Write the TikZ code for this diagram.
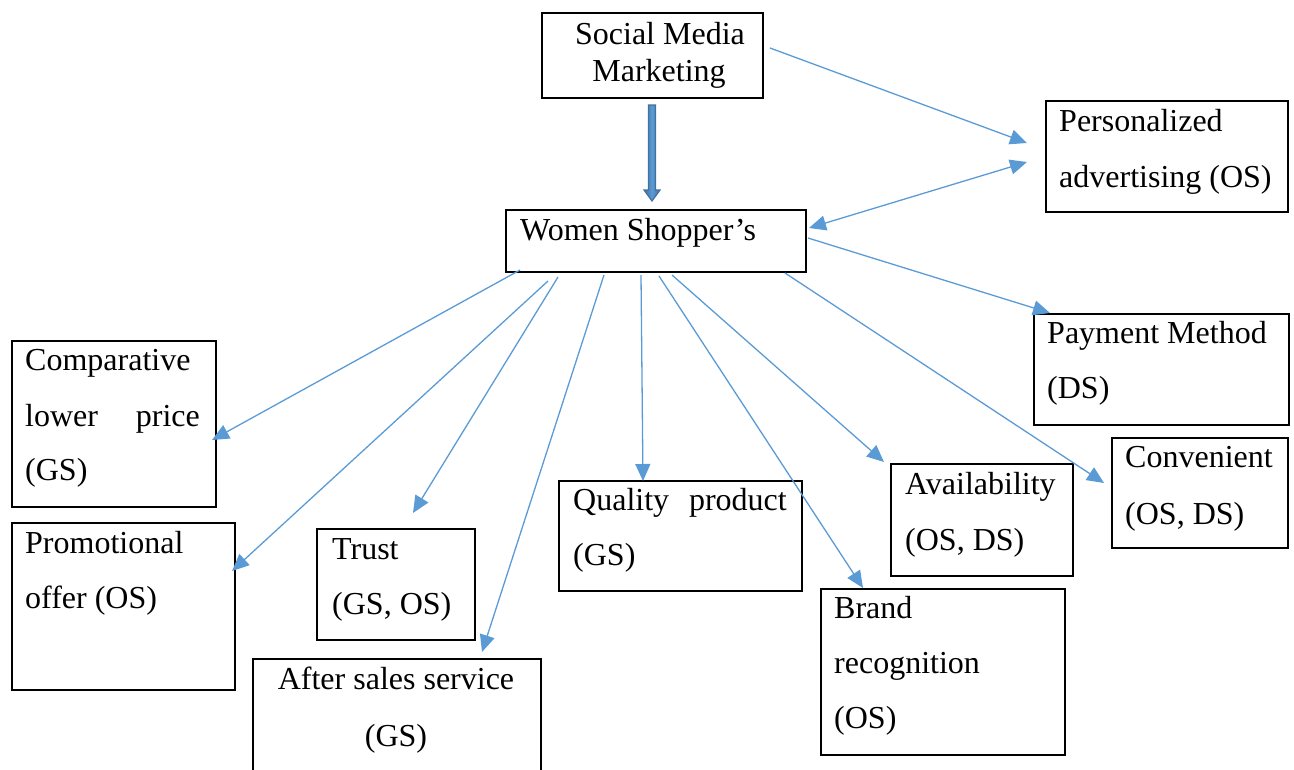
\documentclass[tikz,border=0pt]{standalone}
\usepackage{fontspec}
\setmainfont{Liberation Serif}
\usetikzlibrary{arrows.meta}
\definecolor{linkc}{HTML}{5B9BD5}
\definecolor{linkdark}{HTML}{41719C}
\begin{document}
\begin{tikzpicture}[x=1pt,y=-1pt,
  box/.style={draw=black, line width=2pt, inner sep=0pt, anchor=north west},
  txt/.style={inner sep=0pt, font=\fontsize{32}{38}\selectfont},
  conn/.style={draw=linkc, line width=1.3pt},
  >={Triangle[length=17pt,width=15pt]}
]
\clip (0,0) rectangle (1294,769);

% ---- boxes ----
\node[box, minimum width=221pt, minimum height=85pt]  (smm)   at (541,12)   {};
\node[box, minimum width=242pt, minimum height=111pt] (pers)  at (1045,100) {};
\node[box, minimum width=300pt, minimum height=62pt]  (ws)    at (505,209)  {};
\node[box, minimum width=255pt, minimum height=111pt] (pay)   at (1033,313) {};
\node[box, minimum width=204pt, minimum height=166pt] (comp)  at (11,340)   {};
\node[box, minimum width=223pt, minimum height=167pt] (promo) at (11,522)   {};
\node[box, minimum width=158pt, minimum height=111pt] (trust) at (316,528)  {};
\node[box, minimum width=288pt, minimum height=130pt] (after) at (252,658)  {};
\node[box, minimum width=243pt, minimum height=110pt] (qual)  at (558,480)  {};
\node[box, minimum width=182pt, minimum height=112pt] (avail) at (890,463)  {};
\node[box, minimum width=176pt, minimum height=110pt] (conv)  at (1111,437) {};
\node[box, minimum width=244pt, minimum height=166pt] (brand) at (820,588)  {};

% ---- box texts ----
\node[txt, anchor=base] at (660,44) {Social Media};
\node[txt, anchor=base] at (659,81) {Marketing};

\node[txt, anchor=base west] at (1059,131) {Personalized};
\node[txt, anchor=base west] at (1059,187) {advertising (OS)};

\node[txt, anchor=base west] at (520,240) {Women Shopper’s};

\node[txt, anchor=base west] at (1047,343) {Payment Method};
\node[txt, anchor=base west] at (1047,398) {(DS)};

\node[txt, anchor=base west] at (25,370) {Comparative};
\node[txt, anchor=base west] at (25,426) {lower};
\node[txt, anchor=base east] at (200,426) {price};
\node[txt, anchor=base west] at (25,480) {(GS)};

\node[txt, anchor=base west] at (25,553) {Promotional};
\node[txt, anchor=base west] at (25,608) {offer (OS)};

\node[txt, anchor=base west] at (332,559) {Trust};
\node[txt, anchor=base west] at (332,614) {(GS, OS)};

\node[txt, anchor=base] at (396,689) {After sales service};
\node[txt, anchor=base] at (396,746) {(GS)};

\node[txt, anchor=base west] at (573,510) {Quality};
\node[txt, anchor=base east] at (787,510) {product};
\node[txt, anchor=base west] at (573,565) {(GS)};

\node[txt, anchor=base west] at (905,494) {Availability};
\node[txt, anchor=base west] at (905,550) {(OS, DS)};

\node[txt, anchor=base west] at (1125,467) {Convenient};
\node[txt, anchor=base west] at (1125,524) {(OS, DS)};

\node[txt, anchor=base west] at (834,618) {Brand};
\node[txt, anchor=base west] at (834,673) {recognition};
\node[txt, anchor=base west] at (834,728) {(OS)};

% ---- connector end points ----
\coordinate (smmA)   at (770,48);
\coordinate (persA)  at (1027,143);
\coordinate (persB)  at (1027,162);
\coordinate (wsR)    at (809,228);
\coordinate (wsPay)  at (808,238);
\coordinate (payIn)  at (1050,313);
\coordinate (ws1)    at (520,270);
\coordinate (compIn) at (212,440);
\coordinate (ws2)    at (548,281);
\coordinate (promoIn)at (232,571);
\coordinate (ws3)    at (558,277);
\coordinate (trustIn)at (413,513);
\coordinate (ws4)    at (604,275);
\coordinate (afterIn)at (482,652);
\coordinate (ws5)    at (641,275);
\coordinate (qualIn) at (643,481);
\coordinate (ws6)    at (659,276);
\coordinate (brandIn)at (863,588);
\coordinate (ws7)    at (672,275);
\coordinate (availIn)at (884,462);
\coordinate (ws8)    at (785,273);
\coordinate (convIn) at (1104,483);

% ---- connectors ----
\draw[conn,->]  (smmA) -- (persA);
\draw[conn,<->] (wsR) -- (persB);
\draw[conn,->]  (wsPay) -- (payIn);
\draw[conn,->]  (ws1) -- (compIn);
\draw[conn,->]  (ws2) -- (promoIn);
\draw[conn,->]  (ws3) -- (trustIn);
\draw[conn,->]  (ws4) -- (afterIn);
\draw[conn,->]  (ws5) -- (qualIn);
\draw[conn,->]  (ws6) -- (brandIn);
\draw[conn,->]  (ws7) -- (availIn);
\draw[conn,->]  (ws8) -- (convIn);

% ---- thick block arrow from Social Media Marketing to Women Shopper's ----
\coordinate (ta) at (652,105);
\coordinate (tb) at (652,201);
\draw[draw=linkdark, line width=1.2pt,
      left color=linkdark, right color=linkdark, middle color=linkc]
  ([xshift=-3.5pt]ta) -- ([xshift=-3.5pt,yshift=11pt]tb)
  -- ([xshift=-8pt,yshift=11pt]tb) -- (tb)
  -- ([xshift=8pt,yshift=11pt]tb) -- ([xshift=3.5pt,yshift=11pt]tb)
  -- ([xshift=3.5pt]ta) -- cycle;
\end{tikzpicture}
\end{document}
